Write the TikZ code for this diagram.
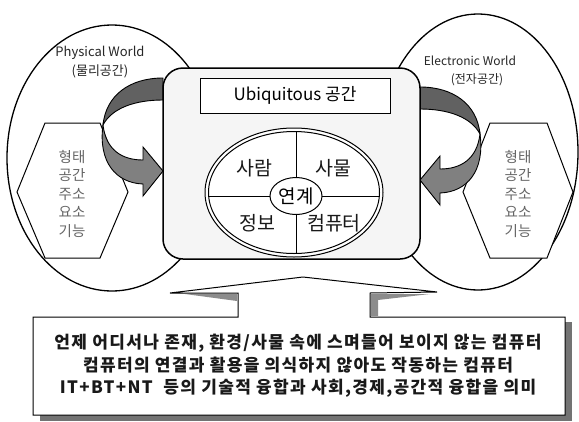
\documentclass[tikz,border=0pt]{standalone}
\usepackage{fontspec}
\usetikzlibrary{shapes.geometric}
\setmainfont{Noto Sans CJK KR}
\begin{document}
\begin{tikzpicture}[x=1pt,y=-1pt,
  outline/.style={draw=black,line width=1.3pt},
  darkband/.style={fill=black!62,draw=black,line width=0.9pt},
  lightband/.style={fill=black!50,draw=black,line width=0.9pt},
  hexa/.style={draw=black,line width=1pt,fill=white},
  hextext/.style={text=black!60,font=\fontsize{14.5}{18.5}\selectfont,align=center,inner sep=0pt},
  worldtext/.style={text=black!85,align=center,inner sep=0pt},
  quad/.style={font=\fontsize{19.5}{22}\selectfont,inner sep=0pt,text=black!90}]
\useasboundingbox (0,0) rectangle (579,421);
\fill[white] (0,0) rectangle (579,421);

% worlds
\draw[outline,fill=white] (112,158) ellipse [x radius=105,y radius=133];
\draw[outline,fill=white] (478,152) ellipse [x radius=100,y radius=138];

% hexagons
\draw[hexa] (45,123) -- (100,123) -- (128,192) -- (100,258) -- (45,258) -- (17,192) -- cycle;
\draw[hexa] (490,123) -- (547,123) -- (573,192) -- (547,258) -- (490,258) -- (463,192) -- cycle;
\node[hextext] (hl) at (72,194) {형태\\공간\\주소\\요소\\기능};
\node[hextext] (hr) at (518,194) {형태\\공간\\주소\\요소\\기능};

% world labels
\node[worldtext,font=\fontsize{13}{19}\selectfont] (pw) at (100,62) {Physical World\\(물리공간)};
\node[worldtext,font=\fontsize{12}{18}\selectfont] (ew) at (470,71) {Electronic World\\\hspace*{14pt}(전자공간)};

% curved arrows
\path[darkband] (163,78) .. controls (130,78) and (106,95) .. (103,125)
   .. controls (112,108) and (135,100) .. (163,100) -- cycle;
\path[lightband] (103,125) .. controls (106,150) and (122,160) .. (143,160)
   -- (143,147) -- (163,171) -- (143,196) -- (143,184)
   .. controls (116,183) and (98,162) .. (103,125) -- cycle;
\path[darkband] (420,87) .. controls (453,87) and (477,104) .. (480,134)
   .. controls (471,117) and (448,109) .. (420,109) -- cycle;
\path[lightband] (480,134) .. controls (477,159) and (461,169) .. (440,169)
   -- (440,156) -- (420,180) -- (440,205) -- (440,193)
   .. controls (467,192) and (485,171) .. (480,134) -- cycle;

% central box
\draw[line width=1.5pt,fill=black!4,rounded corners=20pt] (163,68) rectangle (420,259);
\node[draw=black,line width=1pt,fill=white,minimum width=190pt,minimum height=35pt,
  font=\fontsize{17}{20}\selectfont,inner sep=0pt] (ub) at (295,95.5) {Ubiquitous 공간};

% double ellipse with cross
\draw[line width=1pt,fill=white] (294,192.5) ellipse [x radius=89,y radius=64.5];
\draw[line width=1pt] (294,192.5) ellipse [x radius=85.5,y radius=61];
\begin{scope}
  \clip (294,192.5) ellipse [x radius=85.5,y radius=61];
  \draw[line width=1pt] (296,120) -- (296,260);
  \draw[line width=1pt] (200,196) -- (390,196);
\end{scope}
\node[draw=black,line width=1pt,fill=white,ellipse,minimum width=52pt,minimum height=37pt,
  inner sep=0pt,font=\fontsize{19}{22}\selectfont] (link) at (296,196) {연계};
\node[quad] (q1) at (254,168) {사람};
\node[quad] (q2) at (333,168) {사물};
\node[quad] (q3) at (257,223) {정보};
\node[quad] (q4) at (334,223) {컴퓨터};

% callout
\fill[black!55] (40,415) rectangle (572,421);
\fill[black!55] (565,322) rectangle (572,421);
\draw[line width=1pt,fill=white] (33,317) -- (238,317) -- (238,293) -- (170,293) -- (303,277)
  -- (437,292) -- (370,293) -- (370,317) -- (565,317) -- (565,415) -- (33,415) -- cycle;
\fill[black!45] (185,294) -- (237,294) -- (237,301) -- cycle;
\fill[black!45] (371,294) -- (430,294) -- (378,300) -- (378,316) -- (371,316) -- cycle;
\node[align=center,inner sep=0pt,text=black!90,
  font=\bfseries\fontsize{17}{22.5}\selectfont\addfontfeature{LetterSpace=8}] (desc) at (298,366)
  {언제 어디서나 존재, 환경/사물 속에 스며들어 보이지 않는 컴퓨터\\
   컴퓨터의 연결과 활용을 의식하지 않아도 작동하는 컴퓨터\\
   IT+BT+NT\ \ 등의 기술적 융합과 사회,경제,공간적 융합을 의미};
\end{tikzpicture}
\end{document}
